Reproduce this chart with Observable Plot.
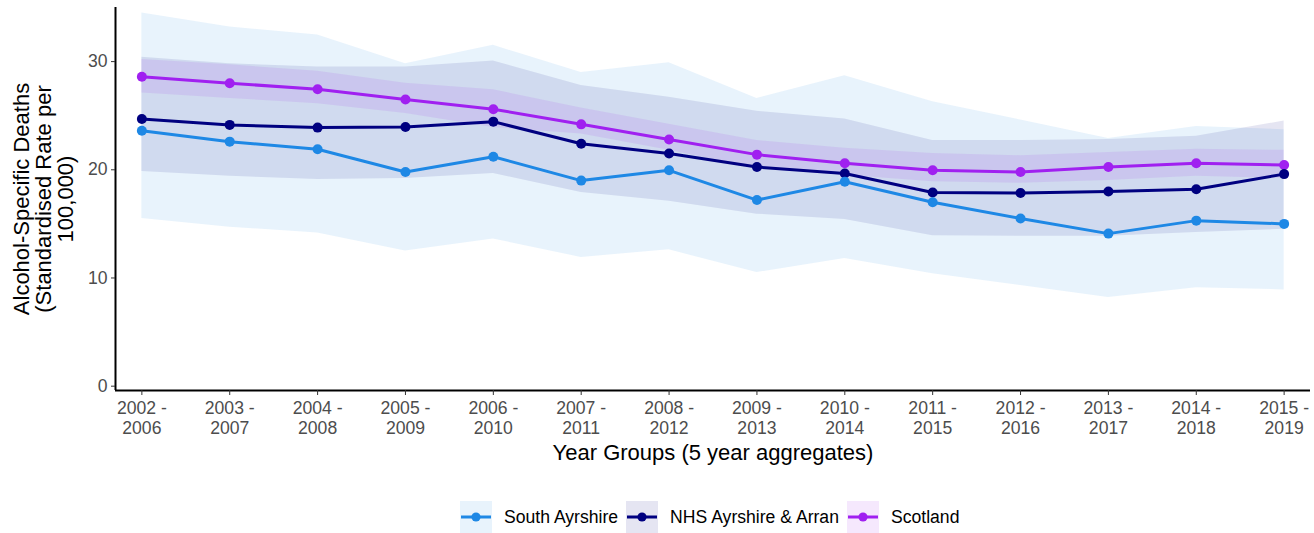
<!DOCTYPE html>
<html>
<head>
<meta charset="utf-8">
<script src="https://cdn.jsdelivr.net/npm/d3@7"></script>
<script src="https://cdn.jsdelivr.net/npm/@observablehq/plot@0.6"></script>
<style>
  html, body { margin: 0; padding: 0; background: #fff; }
  #wrap { position: relative; width: 1314px; height: 533px; overflow: hidden; font-family: "Liberation Sans", Arial, sans-serif; }
  #legend { position: absolute; top: 501px; left: 460px; display: flex; align-items: center; }
  .item { display: flex; align-items: center; margin-right: 8px; }
  .key { width: 32px; height: 32px; }
  .lab { font-size: 17.6px; color: #000; margin-left: 12px; white-space: nowrap; }
</style>
</head>
<body>
<div id="wrap"><div id="chart"></div><div id="legend"></div></div>
<script>
// ---- data ----
const yearGroups = ["2002 - 2006","2003 - 2007","2004 - 2008","2005 - 2009","2006 - 2010","2007 - 2011","2008 - 2012","2009 - 2013","2010 - 2014","2011 - 2015","2012 - 2016","2013 - 2017","2014 - 2018","2015 - 2019"];
const seriesNames = ["South Ayrshire", "NHS Ayrshire & Arran", "Scotland"];
const seriesColors = ["#1E88E5", "#000080", "#A020F0"];

const southAyrshire      = [23.6, 22.6, 21.9, 19.8, 21.2, 19.0, 19.95, 17.2, 18.9, 17.0, 15.5, 14.1, 15.3, 15.0];
const southAyrshireLower = [15.5, 14.7, 14.15, 12.5, 13.6, 11.9, 12.6, 10.5, 11.8, 10.4, 9.3, 8.2, 9.1, 8.9];
const southAyrshireUpper = [34.5, 33.2, 32.45, 29.8, 31.5, 29.0, 29.9, 26.6, 28.7, 26.3, 24.6, 22.9, 24.0, 23.7];

const nhsAyrshire      = [24.7, 24.15, 23.9, 23.95, 24.45, 22.4, 21.5, 20.25, 19.65, 17.9, 17.85, 18.0, 18.2, 19.6];
const nhsAyrshireLower = [19.85, 19.4, 19.1, 19.2, 19.65, 17.9, 17.1, 15.9, 15.4, 13.9, 13.85, 13.85, 14.2, 14.5];
const nhsAyrshireUpper = [30.4, 29.8, 29.5, 29.5, 30.05, 27.8, 26.7, 25.4, 24.7, 22.7, 22.7, 22.8, 23.1, 24.5];

const scotland      = [28.6, 28.0, 27.45, 26.5, 25.6, 24.2, 22.8, 21.4, 20.6, 19.95, 19.8, 20.25, 20.6, 20.45];
const scotlandLower = [27.1, 26.6, 26.1, 25.2, 23.9, 23.3, 21.8, 20.1, 19.5, 18.9, 18.75, 19.0, 19.4, 19.2];
const scotlandUpper = [30.2, 29.7, 29.1, 28.0, 27.4, 25.7, 24.2, 22.7, 22.0, 21.5, 21.3, 21.6, 21.9, 21.8];

const yTicks = [0, 10, 20, 30];
const xLabel = "Year Groups (5 year aggregates)";
const yLabel = "Alcohol-Specific Deaths\n(Standardised Rate per\n100,000)";

// ---- table ----
const seriesData = [
  [southAyrshire, southAyrshireLower, southAyrshireUpper],
  [nhsAyrshire, nhsAyrshireLower, nhsAyrshireUpper],
  [scotland, scotlandLower, scotlandUpper]
];
const rows = [];
seriesData.forEach(([v, lo, hi], s) => {
  v.forEach((val, i) => rows.push({series: seriesNames[s], i, value: val, lower: lo[i], upper: hi[i]}));
});
const drawOrderLines = ["Scotland", "NHS Ayrshire & Arran", "South Ayrshire"];
const bySeries = name => rows.filter(r => r.series === name);

const marks = [];
// ribbons
for (const name of seriesNames) {
  marks.push(Plot.areaY(bySeries(name), {x: "i", y1: "lower", y2: "upper", fill: "series", fillOpacity: 0.1}));
}
// lines and dots
for (const name of drawOrderLines) {
  marks.push(Plot.line(bySeries(name), {x: "i", y: "value", stroke: "series", strokeWidth: 3}));
  marks.push(Plot.dot(bySeries(name), {x: "i", y: "value", fill: "series", r: 5}));
}
// axes
marks.push(Plot.ruleY([-0.4], {stroke: "#000", strokeWidth: 2}));
marks.push(Plot.ruleX([-0.3], {stroke: "#000", strokeWidth: 2}));
marks.push(Plot.axisY({ticks: yTicks, tickSize: 4, tickPadding: 4, fontSize: 17.6, color: "#4d4d4d", stroke: "#333", label: null}));
marks.push(Plot.axisX({ticks: d3.range(yearGroups.length), tickFormat: i => yearGroups[i].replace(" - ", " -\n"), tickSize: 5, tickPadding: 5, fontSize: 17.6, lineHeight: 1.1, color: "#4d4d4d", stroke: "#333", label: null}));
marks.push(Plot.text([xLabel], {frameAnchor: "bottom", lineAnchor: "middle", textAnchor: "middle", dy: 62, fontSize: 22, fill: "#000"}));
marks.push(Plot.text([yLabel], {frameAnchor: "left", textAnchor: "middle", lineAnchor: "middle", dx: -72, rotate: -90, fontSize: 22, lineHeight: 1.0, fill: "#000"}));

const chart = Plot.plot({
  width: 1314,
  height: 495,
  marginLeft: 115,
  marginRight: 4,
  marginTop: 7,
  marginBottom: 105,
  style: {fontFamily: "'Liberation Sans', Arial, sans-serif", background: "#fff"},
  x: {type: "linear", domain: [-0.3, yearGroups.length - 1 + 0.3]},
  y: {domain: [-0.4, 35]},
  color: {domain: seriesNames, range: seriesColors},
  marks
});
document.getElementById("chart").appendChild(chart);

// ---- legend ----
const legend = document.getElementById("legend");
seriesNames.forEach((name, k) => {
  const c = d3.color(seriesColors[k]);
  const bg = `rgba(${c.r},${c.g},${c.b},0.1)`;
  const item = document.createElement("div");
  item.className = "item";
  item.innerHTML = `<svg class="key" width="32" height="32" style="background:${bg}"><line x1="1" x2="31" y1="16" y2="16" stroke="${seriesColors[k]}" stroke-width="3"/><circle cx="16" cy="16" r="4.6" fill="${seriesColors[k]}"/></svg><span class="lab">${name.replace("&", "&amp;")}</span>`;
  legend.appendChild(item);
});
</script>
</body>
</html>
